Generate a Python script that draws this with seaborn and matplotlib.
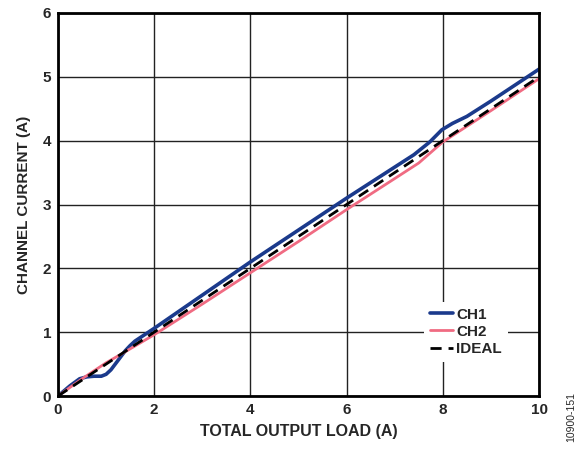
import matplotlib
matplotlib.use("Agg")
import matplotlib.pyplot as plt
import seaborn as sns
import pandas as pd

ch1_x = [0, 0.25, 0.45, 0.6, 0.75, 0.9, 1.0, 1.1, 1.2, 1.3, 1.4, 1.5, 1.6, 1.8, 2.0, 3.0, 4.0, 5.0, 6.0, 6.7, 7.4, 7.73, 7.98, 8.2, 8.5, 9.0, 9.5, 10.0]
ch1_y = [0, 0.16, 0.27, 0.3, 0.31, 0.31, 0.34, 0.41, 0.51, 0.61, 0.71, 0.79, 0.86, 0.96, 1.06, 1.58, 2.1, 2.6, 3.1, 3.44, 3.78, 3.98, 4.17, 4.27, 4.38, 4.62, 4.87, 5.12]
ch2_x = [0, 0.5, 1.0, 1.3, 2.0, 3.0, 4.0, 5.0, 6.0, 6.7, 7.5, 8.0, 9.0, 10.0]
ch2_y = [0, 0.27, 0.52, 0.65, 0.96, 1.44, 1.93, 2.42, 2.92, 3.26, 3.65, 3.98, 4.47, 4.97]
ideal_x = [0, 10]
ideal_y = [0, 5]
xticks = [0, 2, 4, 6, 8, 10]
yticks = [0, 1, 2, 3, 4, 5, 6]

sns.set_style("white")
plt.rcParams['font.family'] = ['Liberation Sans', 'DejaVu Sans']

fig = plt.figure(figsize=(5.84, 4.5), dpi=100)
ax = fig.add_axes([58/584, 54/450, 481/584, 383/450])

sns.lineplot(x=ch1_x, y=ch1_y, ax=ax, color='#1b3a8c', lw=2.6, label='CH1', sort=False)
sns.lineplot(x=ch2_x, y=ch2_y, ax=ax, color='#f06b82', lw=2.0, label='CH2', sort=False)
sns.lineplot(x=ideal_x, y=ideal_y, ax=ax, color='black', lw=2.0, label='IDEAL')
ax.lines[-1].set_dashes([4, 2.5])
for ln in ax.lines:
    ln.set_solid_joinstyle('round')

ax.set_xlim(0, 10)
ax.set_ylim(0, 6)
ax.set_xticks(xticks)
ax.set_yticks(yticks)
ax.set_xticklabels([str(t) for t in xticks], fontweight='bold', fontsize=11)
ax.set_yticklabels([str(t) for t in yticks], fontweight='bold', fontsize=11)
ax.tick_params(length=0, pad=5)
ax.grid(True, color='#222222', lw=1.0)
ax.set_axisbelow(True)
for s in ax.spines.values():
    s.set_linewidth(2.0)
    s.set_color('black')
ax.set_xlabel('TOTAL OUTPUT LOAD (A)', fontweight='bold', fontsize=11.5, labelpad=5)
ax.set_ylabel('CHANNEL CURRENT (A)', fontweight='bold', fontsize=11, labelpad=8)

leg = ax.legend(loc='lower right', bbox_to_anchor=(0.9356, 0.0888), frameon=True, fancybox=False,
                framealpha=1, edgecolor='white', handlelength=1.5, handletextpad=0.2,
                labelspacing=0.2, borderpad=0.4, borderaxespad=0,
                prop={'weight': 'bold', 'size': 11})
leg.get_frame().set_linewidth(0)

fig.text(571/584, 1 - 417/450, '10900-151', rotation=90, fontsize=7.5, ha='center', va='center')

fig.savefig('out.png', dpi=100)
